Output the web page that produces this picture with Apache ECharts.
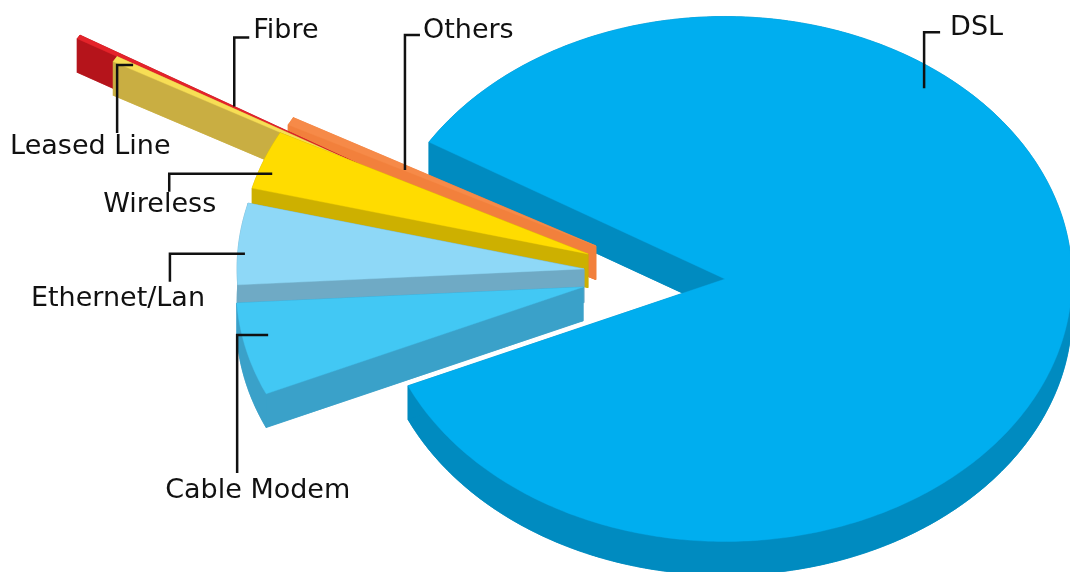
<!DOCTYPE html>
<html><head><meta charset="utf-8">
<script src="https://cdn.jsdelivr.net/npm/echarts@6/dist/echarts.min.js"></script>
<style>html,body{margin:0;padding:0;background:#fff}#main{width:1070px;height:572px}</style>
</head><body><div id="main"></div>
<script>
// ---- data (share of connections, %) ----
const categories = ['DSL', 'Fibre', 'Leased Line', 'Others', 'Wireless', 'Ethernet/Lan', 'Cable Modem'];
const shares = [84.6, 0.25, 0.35, 0.5, 3.6, 5.0, 5.7];

// ---- styling / layout (kept apart from the data) ----
const topColors  = ['#00AEEF', '#E4232A', '#F7DE55', '#F68A48', '#FFDC00', '#8ED8F7', '#42C8F4'];
const sideColors = ['#008BC0', '#B5141B', '#C9AE42', '#F2803C', '#CDB000', '#6FAAC5', '#3AA1C9'];
const drawOrder  = [0, 2, 3, 1, 4, 5, 6];
// explode: [distance as fraction of radius, direction in degrees]
const explode = [[0, 0], [1.085, 157.94], [0.953, 159.16], [0.3925, 161.3], [0.406, 166.4], [0.408, 174.6], [0.410, 184.3]];
// leader anchor inside slice: [radius fraction, fraction of slice angle]
const anchorAt = [[0.926, 0.682], [0.479, 0.0], [0.944, 0.19], [0.622, 0.86], [0.960, 0.69], [0.979, 0.62], [0.926, 0.386]];
const labelLayout = [
  {mode: 'up', v: 56, h: 16, tx: 10, ty: -4},
  {mode: 'up', v: 69, h: 15, tx: 4, ty: -6},
  {mode: 'down', h: 16, v: 68, tx: -107, ty: 1},
  {mode: 'up', v: 135, h: 15, tx: 3, ty: -4},
  {mode: 'down', h: 103, v: 18, tx: -66, ty: 0},
  {mode: 'down', h: 75, v: 28, tx: -139, ty: 4},
  {mode: 'down', h: 31, v: 138, tx: -72, ty: 4}
];
const SQUASH = 0.7565;   // vertical tilt of the pie
const DEPTH = 0.097;     // thickness as fraction of radius

let cum = 0;
const seriesData = shares.map(function (v) { const d = [1, cum, cum + v]; cum += v; return d; });

function renderItem(params, api) {
  const i = params.dataIndex;
  const cs = params.coordSys;
  const s = api.value(1), e = api.value(2);
  const R = cs.r;
  const depth = R * DEPTH;
  const ex = explode[i];
  const ox = ex[0] * R * Math.cos(ex[1] * Math.PI / 180);
  const oy = -ex[0] * R * SQUASH * Math.sin(ex[1] * Math.PI / 180);
  function proj(r, v) {
    const p = api.coord([r, v]);
    return [p[0] + ox, cs.cy + (p[1] - cs.cy) * SQUASH + oy];
  }
  function down(p) { return [p[0], p[1] + depth]; }
  const n = Math.max(2, Math.ceil((e - s) / 0.2));
  const arc = [];
  for (let j = 0; j <= n; j++) arc.push(proj(1, s + (e - s) * j / n));
  const apex = proj(0, s);
  const top = [apex].concat(arc);
  const side = sideColors[i], topc = topColors[i];
  const base = drawOrder[i] * 5;
  const sideStyle = {fill: side, stroke: side, lineWidth: 0.6};
  const children = [
    {type: 'polygon', z2: base, shape: {points: top.map(down)}, style: sideStyle},
    {type: 'polygon', z2: base, shape: {points: arc.concat(arc.slice().reverse().map(down))}, style: sideStyle},
    {type: 'polygon', z2: base, shape: {points: [apex, arc[0], down(arc[0]), down(apex)]}, style: sideStyle},
    {type: 'polygon', z2: base, shape: {points: [apex, arc[n], down(arc[n]), down(apex)]}, style: sideStyle},
    {type: 'polygon', z2: base + 1, shape: {points: top}, style: {fill: topc, stroke: topc, lineWidth: 0.4}}
  ];
  // leader + label
  const an = anchorAt[i];
  const A = proj(an[0], s + (e - s) * an[1]);
  const L = labelLayout[i];
  let B, C, valign;
  if (L.mode === 'up') {
    B = [A[0], A[1] - L.v]; C = [A[0] + L.h, A[1] - L.v]; valign = 'middle';
  } else {
    B = [A[0] - L.h, A[1]]; C = [A[0] - L.h, A[1] + L.v]; valign = 'top';
  }
  children.push({type: 'polyline', z2: 200, shape: {points: [A, B, C]},
    style: {stroke: '#111', lineWidth: 2.5, fill: null, lineJoin: 'miter'}});
  children.push({type: 'text', z2: 201, x: C[0] + L.tx, y: C[1] + L.ty,
    style: {text: categories[i], fill: '#111', font: '27px "DejaVu Sans"',
      textAlign: 'left', textVerticalAlign: valign}});
  return {type: 'group', children: children};
}

const chart = echarts.init(document.getElementById('main'), null, {renderer: 'canvas'});
chart.setOption({
  backgroundColor: '#ffffff',
  animation: false,
  polar: {center: [725, 279], radius: 347},
  angleAxis: {type: 'value', min: 0, max: 100, startAngle: 204, clockwise: false, show: false},
  radiusAxis: {type: 'value', min: 0, max: 1, show: false},
  series: [{
    type: 'custom',
    coordinateSystem: 'polar',
    silent: true,
    encode: {radius: 0, angle: 1},
    data: seriesData,
    renderItem: renderItem
  }]
});
</script>
</body></html>
